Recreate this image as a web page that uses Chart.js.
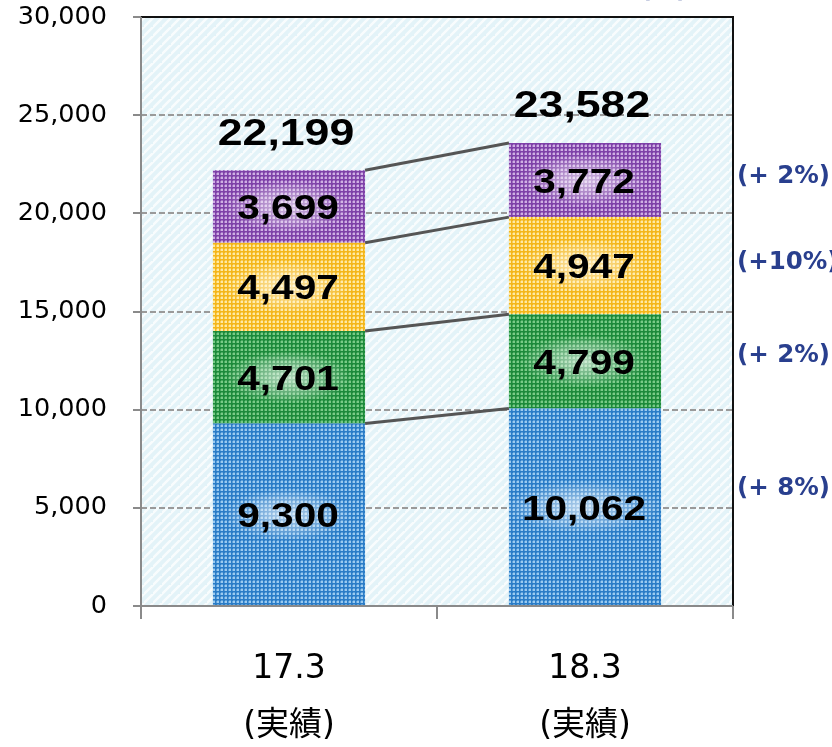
<!DOCTYPE html>
<html>
<head>
<meta charset="utf-8">
<script src="https://cdn.jsdelivr.net/npm/chart.js@4.4.1/dist/chart.umd.min.js"></script>
<style>
  html, body { margin: 0; padding: 0; background: #fff; }
  #wrap { width: 832px; height: 747px; }
</style>
</head>
<body>
<div id="wrap"><canvas id="c" width="832" height="747"></canvas></div>
<script>
// Fiscal year-end periods and their sub caption
const categories = ['17.3', '18.3'];
const subCaption = '(実績)';

// Segment values per period (bottom to top)
const seriesBlue   = [9300, 10062];
const seriesGreen  = [4701, 4799];
const seriesYellow = [4497, 4947];
const seriesPurple = [3699, 3772];

// Stated totals above each stack
const totals = [22199, 23582];

// Year-on-year change per segment (blue, green, yellow, purple)
const growthLabels = ['(+ 8%)', '(+ 2%)', '(+10%)', '(+ 2%)'];

// Value axis ticks
const yTicks = [0, 5000, 10000, 15000, 20000, 25000, 30000];

function dotPattern(base, dot) {
  const p = document.createElement('canvas');
  p.width = 4; p.height = 4;
  const g = p.getContext('2d');
  g.fillStyle = base; g.fillRect(0, 0, 4, 4);
  g.fillStyle = dot; g.fillRect(1, 1, 2, 2);
  g.globalAlpha = 0.45; g.fillRect(1, 0, 2, 1); g.fillRect(0, 1, 1, 2);
  return g.createPattern(p, 'repeat');
}

function hatchPattern() {
  const p = document.createElement('canvas');
  p.width = 9; p.height = 9;
  const g = p.getContext('2d');
  g.fillStyle = '#e3f3f8'; g.fillRect(0, 0, 9, 9);
  g.strokeStyle = 'rgba(255,255,255,0.75)';
  g.lineWidth = 2.5;
  g.beginPath();
  g.moveTo(-2, 11); g.lineTo(11, -2);
  g.moveTo(-11, 11); g.lineTo(2, -2);
  g.moveTo(7, 20); g.lineTo(20, 7);
  g.stroke();
  return g.createPattern(p, 'repeat');
}

const fills = [
  dotPattern('#2a7cc7', '#9ccbf0'),
  dotPattern('#1c8a3b', '#7acb88'),
  dotPattern('#f4b61a', '#feeaa6'),
  dotPattern('#7e41a8', '#cfb0e4')
];
const seriesList = [seriesBlue, seriesGreen, seriesYellow, seriesPurple];

const fmt = v => v.toLocaleString('en-US');

function drawNumber(ctx, text, cx, cy, size, sx, glow) {
  ctx.save();
  ctx.font = 'bold ' + size + 'px "Liberation Sans", Arial, sans-serif';
  const w = ctx.measureText(text).width * sx;
  if (glow) {
    ctx.save();
    ctx.translate(cx, cy);
    ctx.scale(w * 0.62, size * 0.75);
    const rg = ctx.createRadialGradient(0, 0, 0, 0, 0, 1);
    rg.addColorStop(0, 'rgba(255,255,255,0.65)');
    rg.addColorStop(0.6, 'rgba(255,255,255,0.3)');
    rg.addColorStop(1, 'rgba(255,255,255,0)');
    ctx.fillStyle = rg;
    ctx.beginPath(); ctx.arc(0, 0, 1, 0, Math.PI * 2); ctx.fill();
    ctx.restore();
  }
  ctx.translate(cx, cy + size * 0.358);
  ctx.scale(sx, 1);
  ctx.fillStyle = '#000';
  ctx.textAlign = 'center';
  ctx.textBaseline = 'alphabetic';
  ctx.fillText(text, 0, 0);
  ctx.restore();
}

const backdrop = {
  id: 'backdrop',
  beforeDatasetsDraw(chart) {
    const { ctx, chartArea: a, scales: { y } } = chart;
    ctx.save();
    ctx.fillStyle = hatchPattern();
    ctx.fillRect(a.left, a.top, a.right - a.left, a.bottom - a.top);
    // dashed value gridlines
    ctx.strokeStyle = '#9a9a9a';
    ctx.lineWidth = 2;
    ctx.setLineDash([6, 3]);
    yTicks.forEach(v => {
      if (v === 0 || v === 30000) return;
      const py = Math.round(y.getPixelForValue(v));
      ctx.beginPath(); ctx.moveTo(a.left, py); ctx.lineTo(a.right, py); ctx.stroke();
    });
    ctx.restore();
  },
  afterDatasetsDraw(chart) {
    const { ctx, chartArea: a, scales: { x, y } } = chart;
    ctx.save();
    // frame
    ctx.lineWidth = 2;
    ctx.strokeStyle = '#111';
    ctx.beginPath();
    ctx.moveTo(a.left, a.top); ctx.lineTo(a.right, a.top); ctx.lineTo(a.right, a.bottom);
    ctx.stroke();
    ctx.strokeStyle = '#8a8a8a';
    ctx.beginPath();
    ctx.moveTo(a.left, a.top); ctx.lineTo(a.left, a.bottom); ctx.lineTo(a.right, a.bottom);
    ctx.stroke();

    // connectors between stack boundaries
    const m0 = chart.getDatasetMeta(0).data;
    const half = m0[0].width / 2;
    const xr = m0[0].x + half, xl = m0[1].x - half;
    ctx.strokeStyle = '#555';
    ctx.lineWidth = 3;
    const cum = [0, 0];
    seriesList.forEach(s => {
      cum[0] += s[0]; cum[1] += s[1];
      ctx.beginPath();
      ctx.moveTo(xr, y.getPixelForValue(cum[0]));
      ctx.lineTo(xl, y.getPixelForValue(cum[1]));
      ctx.stroke();
    });

    // segment values
    for (let i = 0; i < categories.length; i++) {
      let base = 0;
      const cx = x.getPixelForValue(i) - 1;
      seriesList.forEach(s => {
        const mid = y.getPixelForValue(base + s[i] / 2);
        drawNumber(ctx, fmt(s[i]), cx, mid, 35, 1.16, true);
        base += s[i];
      });
      // totals above stacks
      drawNumber(ctx, fmt(totals[i]), cx - 2, y.getPixelForValue(totals[i]) - 39, 37.5, 1.19, false);
    }

    // growth rates beside the latest stack
    const nudge = [-19, -6, -3, -3];
    ctx.font = 'bold 24.5px "DejaVu Sans", Verdana, sans-serif';
    ctx.fillStyle = '#293f8e';
    ctx.textAlign = 'left';
    ctx.textBaseline = 'middle';
    let base = 0;
    seriesList.forEach((s, k) => {
      const mid = y.getPixelForValue(base + s[1] / 2) + nudge[k];
      ctx.fillText(growthLabels[k], a.right + 4, mid);
      base += s[1];
    });
    // unit caption above the side column
    ctx.textAlign = 'center';
    ctx.textBaseline = 'alphabetic';
    ctx.fillText('(%)', 664, -3);
    ctx.restore();
  }
};

new Chart(document.getElementById('c'), {
  type: 'bar',
  data: {
    labels: categories.map(c => [c, subCaption]),
    datasets: seriesList.map((s, k) => ({
      data: s,
      backgroundColor: fills[k],
      borderWidth: 0,
      barPercentage: 0.514,
      categoryPercentage: 1
    }))
  },
  options: {
    responsive: false,
    animation: false,
    devicePixelRatio: 1,
    layout: { padding: { top: 17, right: 99, left: 0, bottom: 0 } },
    plugins: { legend: { display: false }, tooltip: { enabled: false } },
    scales: {
      x: {
        stacked: true,
        afterFit(s) { s.height = 141; s.paddingLeft = 0; s.paddingRight = 0; },
        border: { display: false },
        grid: { offset: true, drawOnChartArea: false, tickLength: 13, color: '#8a8a8a', lineWidth: 2 },
        ticks: {
          color: '#000',
          padding: 22,
          font: { family: '"DejaVu Sans", "Noto Sans CJK JP", sans-serif', size: 33, lineHeight: 1.72 }
        }
      },
      y: {
        stacked: true,
        min: 0, max: 30000,
        afterFit(s) { s.width = 141; s.paddingTop = 0; s.paddingBottom = 0; },
        afterBuildTicks(s) { s.ticks = yTicks.map(v => ({ value: v })); },
        border: { display: false },
        grid: { drawOnChartArea: false, tickLength: 8, color: '#8a8a8a', lineWidth: 2 },
        ticks: {
          color: '#000',
          padding: 26,
          font: { family: '"DejaVu Sans", Verdana, sans-serif', size: 25.5 },
          callback: v => fmt(v)
        }
      }
    }
  },
  plugins: [backdrop]
});
</script>
</body>
</html>
